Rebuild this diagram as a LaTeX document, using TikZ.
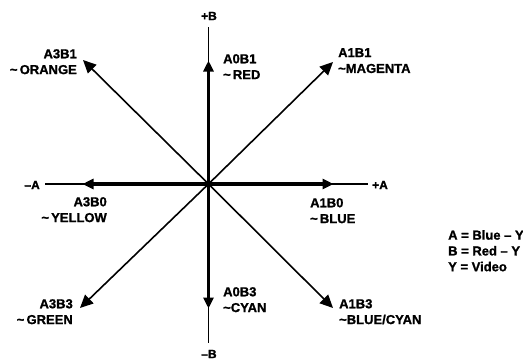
\documentclass[tikz,border=0pt]{standalone}
\usepackage{fontspec}
\setmainfont{Liberation Sans}[BoldFeatures={FakeBold=1.2}]
\usetikzlibrary{arrows.meta}
\begin{document}
\begin{tikzpicture}[x=1pt,y=-1pt,
  lbl/.style={font=\bfseries\fontsize{13pt}{15.8pt}\selectfont, inner sep=0pt},
  axlbl/.style={font=\bfseries\fontsize{12pt}{14pt}\selectfont, inner sep=0pt},
  axisthin/.style={line width=1.4pt},
  axisthick/.style={line width=3.2pt, -{Triangle[length=11pt,width=10pt]}, shorten >=-0.5pt},
  diag/.style={line width=1.6pt, -{Triangle[length=13pt,width=12pt]}}]
\useasboundingbox (0,0) rectangle (523,360);
\coordinate (O) at (208.5,184);
% axis ends and tips
\coordinate (Tend) at (208.5,27);
\coordinate (Ttip) at (208.5,61);
\coordinate (Bend) at (208.5,343);
\coordinate (Btip) at (208.5,308);
\coordinate (Lend) at (45,184);
\coordinate (Ltip) at (83,184);
\coordinate (Rend) at (368,184);
\coordinate (Rtip) at (333,184);
% diagonal tips
\coordinate (NE) at (333,62);
\coordinate (NW) at (83,60);
\coordinate (SW) at (80,308);
\coordinate (SE) at (333,308);
% axes
\draw[axisthin] (Tend) -- (Bend);
\draw[axisthin] (Lend) -- (Rend);
\draw[axisthick] (O) -- (Ttip);
\draw[axisthick] (O) -- (Btip);
\draw[axisthick] (O) -- (Ltip);
\draw[axisthick] (O) -- (Rtip);
% diagonals
\draw[diag] (O) -- (NE);
\draw[diag] (O) -- (NW);
\draw[diag] (O) -- (SW);
\draw[diag] (O) -- (SE);
% axis labels
\node[axlbl] (pB) at (209,16) {+B};
\node[axlbl] (mB) at (209,354) {–B};
\node[axlbl, anchor=east] (mA) at (40,185) {–A};
\node[axlbl, anchor=west] (pA) at (372,185) {+A};
% vector labels
\node[lbl, anchor=north east, align=right] (a3b1) at (77,49) {A3B1\\\textasciitilde\,ORANGE};
\node[lbl, anchor=north west, align=left] (a1b1) at (338,48) {A1B1\\\textasciitilde MAGENTA};
\node[lbl, anchor=north west, align=left] (a0b1) at (223,54) {A0B1\\\textasciitilde\,RED};
\node[lbl, anchor=north east, align=right] (a3b0) at (107,197) {A3B0\\\textasciitilde\,YELLOW};
\node[lbl, anchor=north west, align=left] (a1b0) at (310,198) {A1B0\\\textasciitilde\,BLUE};
\node[lbl, anchor=north east, align=right] (a3b3) at (73,299) {A3B3\\\textasciitilde\,GREEN};
\node[lbl, anchor=north west, align=left] (a0b3) at (223,287) {A0B3\\\textasciitilde CYAN};
\node[lbl, anchor=north west, align=left] (a1b3) at (339,299) {A1B3\\\textasciitilde BLUE/CYAN};
% legend
\node[lbl, anchor=north west, align=left] (legend) at (448,230) {A = Blue – Y\\B = Red – Y\\Y = Video};
\end{tikzpicture}
\end{document}
